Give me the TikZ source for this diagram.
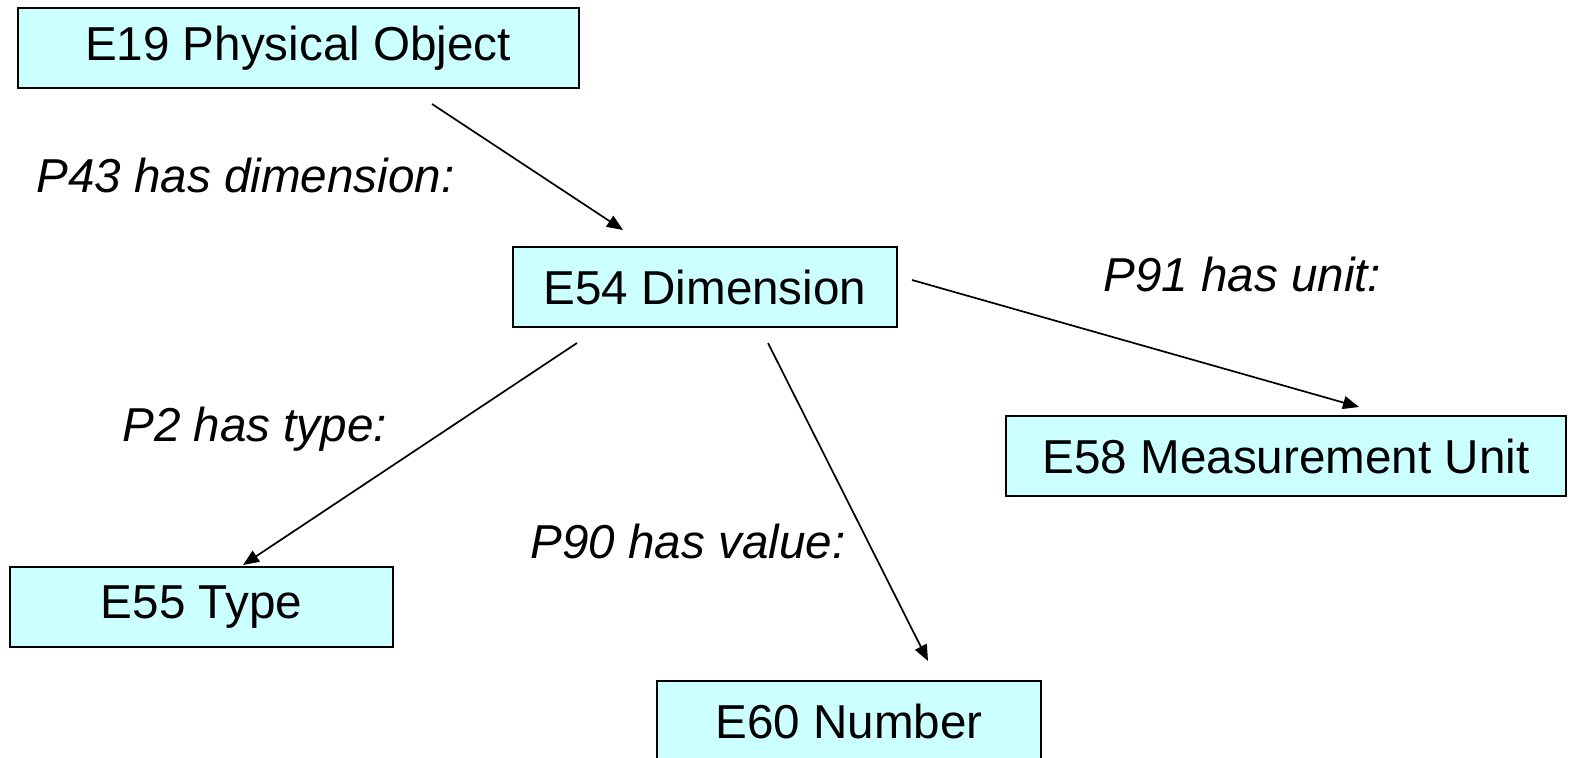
\documentclass[tikz,border=0pt]{standalone}
\usepackage{fontspec}
\setmainfont{Liberation Sans}
\usetikzlibrary{arrows.meta}
\definecolor{classfill}{RGB}{204,255,255}
\tikzstyle{entity}=[draw, fill=classfill, line width=1pt, inner sep=0, outer sep=0,
                    minimum height=40pt, font=\fontsize{23.8}{28}\selectfont]
\tikzstyle{property}=[inner sep=0, anchor=base west, font=\fontsize{23.8}{28}\selectfont\itshape]
\tikzstyle{link}=[line width=0.85pt, -{Triangle[length=8pt, width=6.5pt]}]

\begin{document}
\begin{tikzpicture}[x=0.5pt, y=-0.5pt]
        \useasboundingbox (0, 0) rectangle (1573, 758);
        % classes
        \node[entity, minimum width=280.5pt] (E19) at (298, 48) {E19 Physical Object};
        \node[entity, minimum width=192pt] (E54) at (705, 287) {E54 Dimension};
        \node[entity, minimum width=280pt] (E58) at (1286, 456) {E58 Measurement Unit};
        \node[entity, minimum width=191.5pt] (E55) at (201.5, 607) {E55 Type};
        \node[entity, minimum width=192pt] (E60) at (849, 721) {E60 Number};
        % arrow ends
        \coordinate (E19out) at (432, 104);
        \coordinate (E54in) at (623, 230);
        \coordinate (E54r) at (912, 280);
        \coordinate (E58in) at (1359, 407);
        \coordinate (E54l) at (577, 343);
        \coordinate (E55in) at (243, 565);
        \coordinate (E54b) at (768, 343);
        \coordinate (E60in) at (928, 661);
        \draw[link] (E19out) -- (E54in);
        \draw[link] (E54r) -- (E58in);
        \draw[link] (E54l) -- (E55in);
        \draw[link] (E54b) -- (E60in);
        % properties
        \node[property] (P43) at (36, 193) {P43 has dimension:};
        \node[property] (P91) at (1103, 292) {P91 has unit:};
        \node[property] (P2) at (122, 442) {P2 has type:};
        \node[property] (P90) at (530, 559) {P90 has value:};
    \end{tikzpicture}
\end{document}
